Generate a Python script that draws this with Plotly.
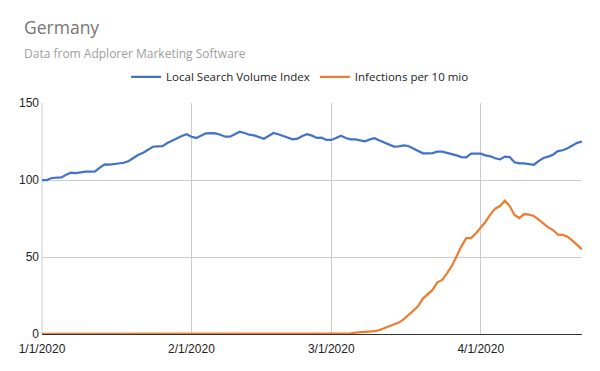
import pandas as pd
import plotly.graph_objects as go

dates = pd.date_range("2020-01-01", "2020-04-22", freq="D")

search_index = [
    100.0, 100.0, 101.3, 101.5, 101.7, 103.4, 104.7, 104.5, 105.0, 105.4,
    105.4, 105.6, 108.0, 110.2, 110.0, 110.4, 111.0, 111.2, 112.3, 114.5,
    116.4, 117.7, 119.9, 121.6, 121.8, 122.0, 124.0, 125.7, 127.0, 128.6,
    129.7, 128.1, 127.3, 129.0, 130.3, 130.5, 130.3, 129.4, 128.1, 128.1,
    129.9, 131.4, 130.5, 129.4, 129.0, 127.9, 126.8, 128.6, 130.5, 129.7,
    128.6, 127.3, 126.4, 126.8, 128.6, 129.7, 128.8, 127.3, 127.5, 126.0,
    126.0, 127.3, 128.8, 127.3, 126.4, 126.4, 125.6, 125.1, 126.4, 127.1,
    125.6, 124.2, 123.2, 121.7, 121.9, 122.5, 122.1, 120.4, 119.1, 117.3,
    117.3, 117.5, 118.4, 118.4, 117.6, 116.9, 116.0, 114.9, 114.7, 117.1,
    117.1, 117.1, 116.0, 115.4, 114.1, 113.4, 115.2, 114.9, 111.5, 110.8,
    110.8, 110.2, 109.9, 112.3, 114.3, 115.2, 116.4, 118.8, 119.3, 120.6,
    122.5, 124.1, 124.9,
]

infections = [0.0] * 60 + [
    0.0, 0.05, 0.1, 0.2, 0.4, 0.9, 1.1, 1.3, 1.5, 1.9,
    2.6, 3.7, 4.8, 6.1, 7.4, 9.5, 12.4, 15.2, 18.0, 23.0,
    25.8, 28.6, 33.6, 35.1, 39.4, 44.2, 50.4, 57.1, 62.3, 62.3,
    65.4, 69.2, 72.9, 77.7, 81.4, 83.1, 86.6, 83.1, 77.3, 75.3,
    77.9, 77.5, 76.6, 74.3, 71.7, 69.2, 67.5, 64.5, 64.3, 63.2,
    60.6, 57.8, 55.0,
]

tick_dates = ["2020-01-01", "2020-02-01", "2020-03-01", "2020-04-01"]
tick_labels = ["1/1/2020", "2/1/2020", "3/1/2020", "4/1/2020"]
y_ticks = [0, 50, 100, 150]

fig = go.Figure()
fig.add_trace(go.Scatter(
    x=dates, y=search_index, mode="lines", name="Local Search Volume Index",
    line=dict(color="#4472C4", width=2.25),
))
fig.add_trace(go.Scatter(
    x=dates, y=infections, mode="lines", name="Infections per 10 mio",
    line=dict(color="#ED7D31", width=2.25),
))

# page body has an 8px default margin, so the figure is sized/offset to compensate
fig.update_layout(
    width=592, height=363,
    margin=dict(l=34, r=18, t=95, b=37),
    paper_bgcolor="white", plot_bgcolor="white",
    font=dict(family="Liberation Sans, Arial, sans-serif", size=12, color="#222222"),
    legend=dict(
        orientation="h", x=0.478, xanchor="center", y=1.113, yanchor="middle",
        font=dict(family="Open Sans, sans-serif", size=11.5, color="#222222"),
        itemwidth=30, tracegroupgap=0,
    ),
    annotations=[
        dict(text="Germany", xref="paper", yref="paper", x=-0.037, y=1.329,
             xanchor="left", yanchor="middle", showarrow=False,
             font=dict(family="Open Sans, sans-serif", size=17.5, color="#757575")),
        dict(text="Data from Adplorer Marketing Software", xref="paper", yref="paper",
             x=-0.037, y=1.216, xanchor="left", yanchor="middle", showarrow=False,
             font=dict(family="Open Sans, sans-serif", size=12, color="#9e9e9e")),
    ],
)

fig.update_xaxes(
    type="date", range=["2020-01-01", "2020-04-22"], automargin=False,
    tickvals=tick_dates, ticktext=tick_labels, ticks="", ticklabelstandoff=4,
    showgrid=True, gridcolor="#cccccc", gridwidth=1,
    showline=True, linecolor="#333333", linewidth=1,
    zeroline=False, tickfont=dict(size=12, color="#222222"),
)
fig.update_yaxes(
    range=[0, 150], tickvals=y_ticks, ticks="", automargin=False, ticklabelstandoff=2,
    showgrid=True, gridcolor="#cccccc", gridwidth=1,
    showline=False, zeroline=False, tickfont=dict(size=12, color="#222222"),
)
fig.add_shape(type="line", xref="paper", yref="paper", x0=0, x1=0, y0=0, y1=1,
              line=dict(color="#cccccc", width=1), layer="below")

fig.write_html("out.html")
